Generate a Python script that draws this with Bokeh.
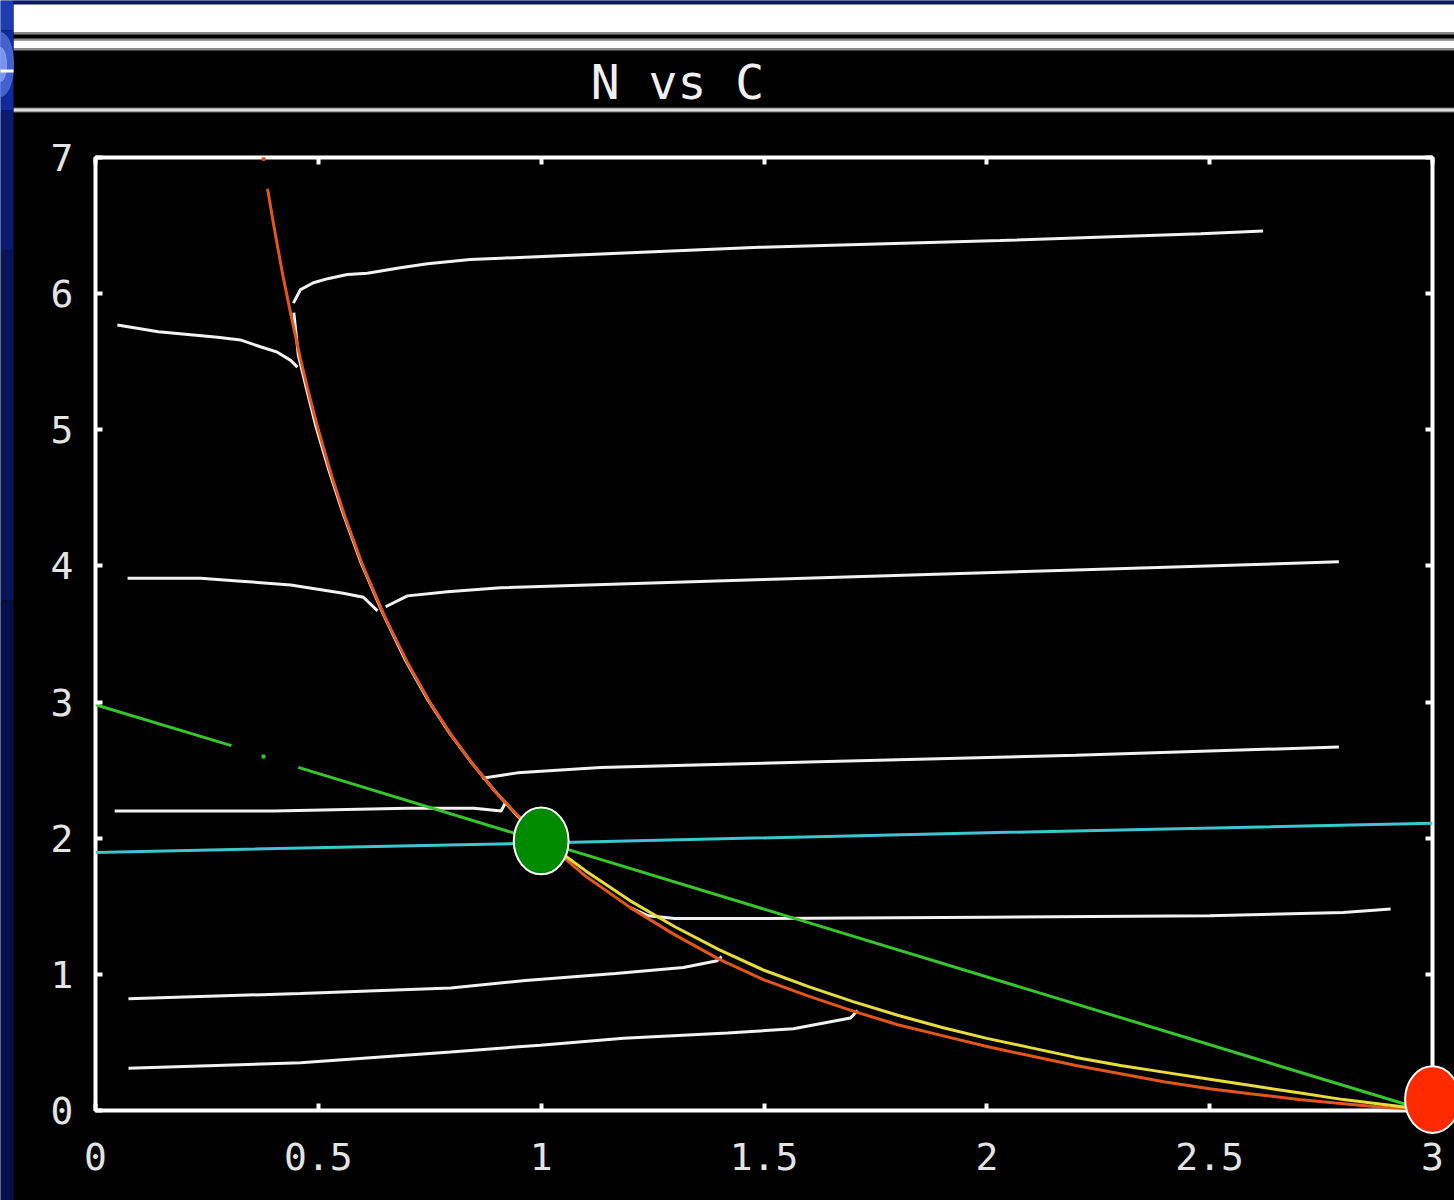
from bokeh.plotting import figure
from bokeh.models import Range1d, LinearAxis, FixedTicker
from bokeh.embed import file_html
from bokeh.resources import INLINE
from bokeh.core.properties import value

# ---------------- data ----------------
TITLE = "N vs C"
x_tick_values = [0, 0.5, 1, 1.5, 2, 2.5, 3]
y_tick_values = [0, 1, 2, 3, 4, 5, 6, 7]

# orange nullcline
orange_c = [0.386, 0.40, 0.42, 0.44, 0.46, 0.48, 0.50, 0.53, 0.56, 0.60, 0.65, 0.70,
            0.75, 0.80, 0.85, 0.90, 0.95, 1.00, 1.10, 1.20, 1.30, 1.40, 1.50, 1.60,
            1.70, 1.80, 1.90, 2.00, 2.10, 2.20, 2.30, 2.40, 2.50, 2.60, 2.70, 2.80,
            2.90, 2.97]
orange_n = [6.77, 6.50, 6.14, 5.82, 5.52, 5.25, 5.00, 4.66, 4.36, 4.00, 3.62, 3.29,
            3.00, 2.75, 2.53, 2.33, 2.16, 2.00, 1.72, 1.49, 1.29, 1.11, 0.96, 0.84,
            0.73, 0.63, 0.55, 0.47, 0.40, 0.33, 0.27, 0.21, 0.16, 0.12, 0.08, 0.05,
            0.02, 0.01]
orange_tip_c = [0.377]
orange_tip_n = [6.99]

# yellow curve
yellow_c = [1.05, 1.10, 1.20, 1.30, 1.40, 1.50, 1.60, 1.70, 1.80, 1.90, 2.00, 2.10,
            2.20, 2.30, 2.40, 2.50, 2.60, 2.70, 2.80, 2.90, 2.95]
yellow_n = [1.88, 1.76, 1.54, 1.35, 1.18, 1.03, 0.91, 0.80, 0.70, 0.61, 0.53, 0.46,
            0.39, 0.33, 0.28, 0.23, 0.18, 0.13, 0.08, 0.04, 0.02]

# green straight line (with a gap and a lone dot)
green1_c = [0.0, 0.305]
green1_n = [2.98, 2.68]
green_dot_c = [0.377]
green_dot_n = [2.60]
green2_c = [0.455, 2.945]
green2_n = [2.52, 0.04]

# cyan line
cyan_c = [0.0, 1.0, 2.0, 3.0]
cyan_n = [1.895, 1.965, 2.04, 2.11]

# white trajectories
traj1_c = [0.049, 0.141, 0.274, 0.325, 0.370, 0.408, 0.438, 0.453]
traj1_n = [5.77, 5.72, 5.68, 5.66, 5.61, 5.57, 5.51, 5.46]
traj2_c = [0.444, 0.460, 0.489, 0.521, 0.565, 0.610, 0.684, 0.745, 0.841, 0.909,
           1.49, 2.03, 2.48, 2.62]
traj2_n = [5.93, 6.03, 6.08, 6.11, 6.14, 6.15, 6.19, 6.22, 6.25, 6.26,
           6.34, 6.39, 6.44, 6.46]
slide_c = [0.445, 0.455, 0.475, 0.495, 0.525, 0.555, 0.595, 0.645, 0.695, 0.745,
           0.795, 0.845, 0.895, 0.945, 0.985]
slide_n = [5.86, 5.55, 5.28, 5.02, 4.69, 4.39, 4.03, 3.65, 3.31, 3.02,
           2.77, 2.55, 2.35, 2.17, 2.04]
traj3_c = [0.072, 0.236, 0.319, 0.438, 0.556, 0.601, 0.633]
traj3_n = [3.91, 3.91, 3.89, 3.86, 3.80, 3.77, 3.67]
traj4_c = [0.651, 0.70, 0.79, 0.909, 1.5, 2.2, 2.79]
traj4_n = [3.70, 3.78, 3.81, 3.84, 3.90, 3.97, 4.03]
traj5_c = [0.868, 0.947, 1.133, 1.6, 2.2, 2.79]
traj5_n = [2.44, 2.48, 2.52, 2.56, 2.61, 2.67]
traj6_c = [0.043, 0.40, 0.70, 0.85, 0.91, 0.92]
traj6_n = [2.20, 2.20, 2.22, 2.22, 2.20, 2.26]
traj7_c = [1.20, 1.24, 1.30, 1.50, 2.00, 2.50, 2.80, 2.906]
traj7_n = [1.49, 1.43, 1.41, 1.41, 1.42, 1.43, 1.455, 1.48]
traj8_c = [0.074, 0.46, 0.797, 0.965, 1.167, 1.319, 1.395, 1.405]
traj8_n = [0.82, 0.86, 0.90, 0.955, 1.007, 1.05, 1.10, 1.13]
traj9_c = [0.074, 0.46, 0.797, 0.998, 1.185, 1.418, 1.566, 1.694, 1.71]
traj9_n = [0.31, 0.35, 0.43, 0.48, 0.53, 0.57, 0.60, 0.68, 0.735]

# equilibrium points
stable_c = [1.0]
stable_n = [1.98]
unstable_c = [3.0]
unstable_n = [0.08]

# ---------------- styling ----------------
FONT = "DejaVu Sans Mono"
LABEL_COLOR = "#e4e4e4"
WHITE = "#f2f2f2"
LW = 3

W, H = 1454, 1200
FL, FR, FT, FB = 95, 1432, 157, 1110   # frame edges in page pixels

p = figure(width=W, height=H, x_range=Range1d(0, 3), y_range=Range1d(0, 7),
           title=None, toolbar_location=None, output_backend="svg",
           min_border_left=FL, min_border_right=W - FR,
           min_border_top=FT, min_border_bottom=H - FB,
           background_fill_color="black", border_fill_color="black",
           outline_line_color="white", outline_line_width=4)
p.xgrid.visible = False
p.ygrid.visible = False

# a pixel coordinate system for the page decorations (header band, side strip)
p.extra_x_ranges = {"px": Range1d(FL, FR)}
p.extra_y_ranges = {"px": Range1d(FB, FT)}
deco = dict(x_range_name="px", y_range_name="px", level="overlay")

p.add_layout(LinearAxis(), "above")
p.add_layout(LinearAxis(), "right")

for ax in p.xaxis:
    ax.ticker = FixedTicker(ticks=x_tick_values)
for ax in p.yaxis:
    ax.ticker = FixedTicker(ticks=y_tick_values)

for ax in list(p.xaxis) + list(p.yaxis):
    ax.axis_line_color = None
    ax.major_tick_in = 7
    ax.major_tick_out = 0
    ax.major_tick_line_color = "white"
    ax.major_tick_line_width = 4
    ax.minor_tick_line_color = None
    ax.major_label_text_font = FONT
    ax.major_label_text_font_size = "38px"
    ax.major_label_text_color = LABEL_COLOR

p.below[0].major_label_standoff = 32
p.left[0].major_label_standoff = 22
p.above[0].major_label_overrides = {t: "" for t in x_tick_values}
p.right[0].major_label_overrides = {t: "" for t in y_tick_values}
for ax in (p.above[0], p.right[0]):
    ax.major_label_text_font_size = "1px"
    ax.major_label_standoff = 0

# white trajectories
for c, n in [(traj1_c, traj1_n), (traj2_c, traj2_n), (slide_c, slide_n),
             (traj3_c, traj3_n), (traj4_c, traj4_n), (traj5_c, traj5_n),
             (traj6_c, traj6_n), (traj7_c, traj7_n), (traj8_c, traj8_n),
             (traj9_c, traj9_n)]:
    p.line(c, n, line_color=WHITE, line_width=LW)

# cyan & green lines
p.line(cyan_c, cyan_n, line_color="#3ec6d0", line_width=LW)
p.line(green1_c, green1_n, line_color="#38c42c", line_width=LW)
p.line(green2_c, green2_n, line_color="#38c42c", line_width=LW)
p.scatter(green_dot_c, green_dot_n, marker="square", size=3, color="#38c42c")

# orange & yellow curves
p.line(orange_c, orange_n, line_color="#e2561c", line_width=LW)
p.scatter(orange_tip_c, orange_tip_n, marker="square", size=3, color="#e2561c")
p.line(yellow_c, yellow_n, line_color="#e6dc3c", line_width=LW)

# equilibrium points (overlay level so they are not cut at the frame)
p.ellipse(x=stable_c, y=stable_n, width=0.123, height=0.49,
          fill_color="#008a00", line_color="white", line_width=2, level="overlay")
p.ellipse(x=unstable_c, y=unstable_n, width=0.123, height=0.49,
          fill_color="#ff2a00", line_color="white", line_width=2, level="overlay")

# ---------------- page decorations ----------------
# header band
p.quad(left=13, right=W,
       top=[0, 4, 32, 38, 40, 48, 107, 108],
       bottom=[4, 32, 34, 40, 48, 50, 112, 111],
       fill_color=["#0a1a70", "white", "#8a8a8a", "#8a8a8a", "white", "#8a8a8a",
                   "#6a6a6a", "#dadada"],
       line_color=None, **deco)
p.text(x=[677], y=[81], text=[TITLE], text_font=value(FONT), text_font_size="48px",
       text_color="#f0f0f0", text_align="center", text_baseline="middle", **deco)

# left blue strip
p.quad(left=0, right=13, top=[0, 30, 110, 250, 600], bottom=[30, 110, 250, 600, H],
       fill_color=["#1c3cb0", "#12299a", "#0b1b70", "#08155a", "#060f48"],
       line_color=None, **deco)
p.ellipse(x=[0], y=[64], width=26, height=64, width_units="screen", height_units="screen",
          color="#5a7ae6", alpha=0.7, **deco)
p.ellipse(x=[0], y=[64], width=12, height=34, width_units="screen", height_units="screen",
          color="#9fb4ff", alpha=0.6, **deco)
p.quad(left=0, right=13, top=69, bottom=72, fill_color="white", line_color=None, **deco)

open("out.html", "w").write(file_html(p, INLINE))
